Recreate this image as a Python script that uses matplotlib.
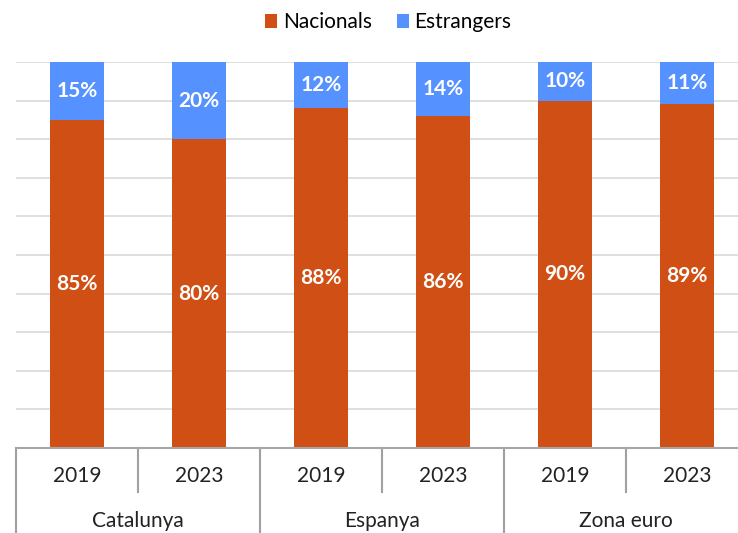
import matplotlib.pyplot as plt
from matplotlib.transforms import blended_transform_factory

# data
years = ['2019', '2023', '2019', '2023', '2019', '2023']
groups = ['Catalunya', 'Espanya', 'Zona euro']
nacionals = [85, 80, 88, 86, 90, 89]
estrangers = [15, 20, 12, 14, 10, 11]

col_nac = '#D04F14'
col_est = '#5591FF'
plt.rcParams['font.family'] = ['Lato', 'DejaVu Sans']

W, H = 738, 533
fig = plt.figure(figsize=(W / 100, H / 100), dpi=100)
# plot area runs a bit past the right edge of the image
ax = fig.add_axes([16 / W, (H - 448) / H, 732 / W, 386 / H])

x = list(range(len(years)))
ax.bar(x, nacionals, width=0.44, color=col_nac, label='Nacionals', zorder=2)
ax.bar(x, estrangers, width=0.44, bottom=nacionals, color=col_est, label='Estrangers', zorder=2)

for i in x:
    ax.text(i, nacionals[i] / 2, f'{nacionals[i]}%', ha='center', va='center',
            color='white', fontsize=15, fontweight='bold', zorder=3)
    ax.text(i, nacionals[i] + estrangers[i] / 2, f'{estrangers[i]}%', ha='center', va='center',
            color='white', fontsize=15, fontweight='bold', zorder=3)

ax.set_xlim(-0.5, len(years) - 0.5)
ax.set_ylim(0, 100)
ax.set_yticks(range(0, 101, 10))
ax.yaxis.grid(True, color='#d9d9d9', lw=1.2)
ax.set_axisbelow(True)
ax.tick_params(left=False, labelleft=False, bottom=False, labelbottom=False)
for s in ['left', 'right', 'top']:
    ax.spines[s].set_visible(False)
ax.spines['bottom'].set_color('#a6a6a6')
ax.spines['bottom'].set_linewidth(1.5)

# two-level category axis
tr = blended_transform_factory(ax.transData, ax.transAxes)
for i, yr in enumerate(years):
    ax.text(i, -0.072, yr, transform=tr, ha='center', va='center', fontsize=15, color='#222222')
    low = -0.22 if i % 2 == 0 else -0.114
    ax.plot([i - 0.5, i - 0.5], [0, low], transform=tr, color='#a0a0a0', lw=1.5, clip_on=False)
for g, name in enumerate(groups):
    ax.text(2 * g + 0.5, -0.188, name, transform=tr, ha='center', va='center', fontsize=15, color='#222222')

fig.legend(loc='upper center', bbox_to_anchor=(0.526, 1.012), ncol=2, frameon=False, fontsize=15,
           handlelength=0.6, handleheight=0.6, handletextpad=0.25, columnspacing=1.2)

fig.savefig('out.png', dpi=100)
